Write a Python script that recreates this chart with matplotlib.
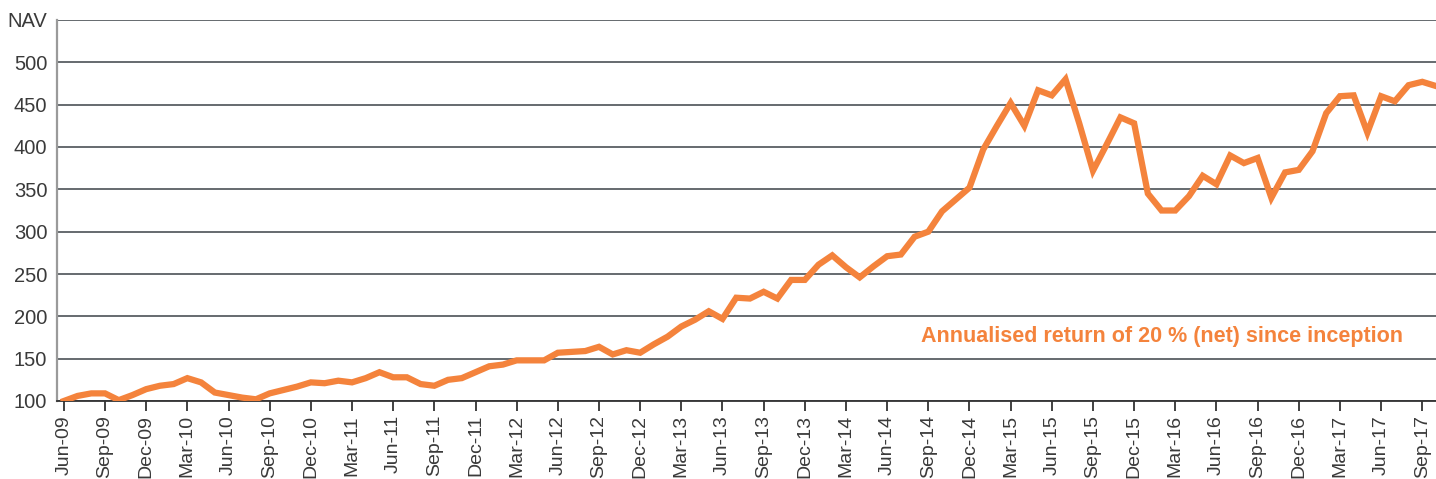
"""
NAV chart since inception (monthly)
"""
import pandas as pd
import matplotlib
matplotlib.use('Agg')
import matplotlib.pyplot as plt

# monthly NAV, Jun-09 .. Oct-17
nav = [100, 106, 109, 109, 101, 107, 114, 118, 120, 127,
       122, 110, 107, 104, 102, 109, 113, 117, 122, 121,
       124, 122, 127, 134, 128, 128, 120, 118, 125, 127,
       134, 141, 143, 148, 148, 148, 157, 158, 159, 164,
       155, 160, 157, 167, 176, 188, 196, 206, 197, 222,
       221, 229, 221, 243, 243, 261, 272, 258, 246, 259,
       271, 273, 294, 300, 324, 338, 352, 397, 425, 452,
       425, 467, 461, 480, 428, 372, 403, 435, 428, 345,
       325, 325, 342, 366, 356, 390, 381, 387, 340, 370,
       373, 395, 440, 460, 461, 417, 460, 454, 473, 477,
       472]
months = pd.date_range('2009-06-01', periods=len(nav), freq='MS')
month_labels = [d.strftime('%b-%y') for d in months]

y_ticks = [100, 150, 200, 250, 300, 350, 400, 450, 500, 550]
y_tick_labels = ['100', '150', '200', '250', '300', '350', '400', '450', '500', 'NAV']

note = 'Annualised return of 20 % (net) since inception'

ORANGE = '#f4833c'
TEXT = '#3a3a3a'

plt.rcParams['font.family'] = ['Liberation Sans', 'DejaVu Sans']

fig = plt.figure(figsize=(14.36, 4.79), dpi=100)
ax = fig.add_axes([57 / 1436, 1 - 401 / 479, 1 - 57 / 1436, 381 / 479])

x = list(range(len(nav)))
ax.plot(x, nav, color=ORANGE, linewidth=4.5, solid_joinstyle='miter', zorder=3)

ax.set_xlim(-0.5, len(nav) - 1)
ax.set_ylim(100, 550)

ax.set_yticks(y_ticks)
ax.set_yticklabels(y_tick_labels)
ax.set_xticks(x[::3])
ax.set_xticklabels(month_labels[::3], rotation=90)

ax.grid(axis='y', color='#4b5156', linewidth=1.2, zorder=1)
ax.set_axisbelow(True)

ax.tick_params(axis='y', length=0, pad=7, labelsize=14.5, labelcolor=TEXT)
ax.tick_params(axis='x', length=7, width=1.3, color='#333333', pad=3,
               labelsize=14, labelcolor=TEXT)

for side in ['top', 'right']:
    ax.spines[side].set_visible(False)
ax.spines['left'].set_color('#9a9a9a')
ax.spines['left'].set_linewidth(1.6)
ax.spines['bottom'].set_color('#333333')
ax.spines['bottom'].set_linewidth(1.3)

ax.text(80, 176, note, color=ORANGE, fontsize=15.5, fontweight='bold',
        ha='center', va='center', family=['Liberation Sans', 'DejaVu Sans'])

fig.savefig('out.png', dpi=100)
